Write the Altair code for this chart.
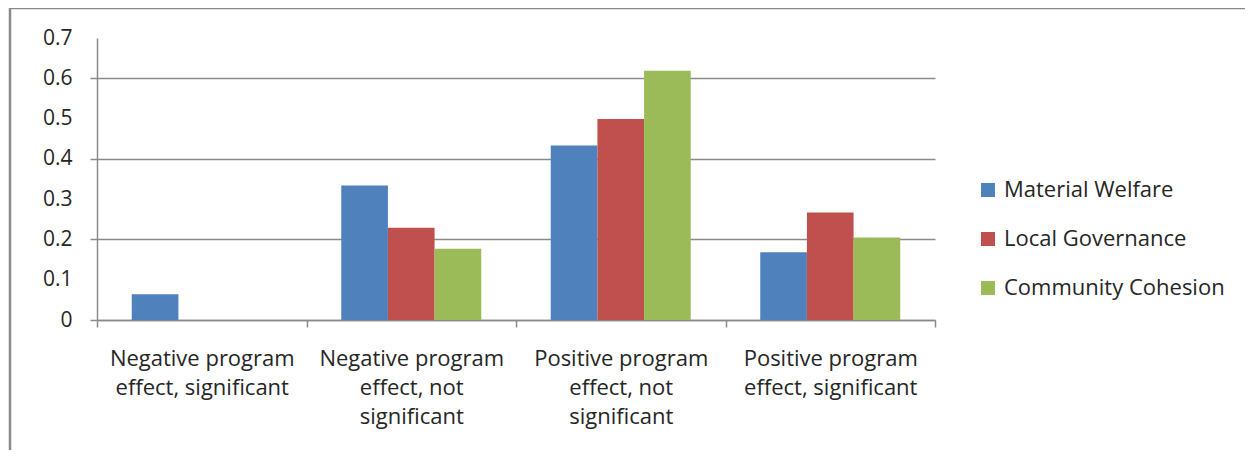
import altair as alt
import pandas as pd
import json

categories = [
    "Negative program effect, significant",
    "Negative program effect, not significant",
    "Positive program effect, not significant",
    "Positive program effect, significant",
]
category_lines = {
    "Negative program effect, significant": ["Negative program", "effect, significant"],
    "Negative program effect, not significant": ["Negative program", "effect, not", "significant"],
    "Positive program effect, not significant": ["Positive program", "effect, not", "significant"],
    "Positive program effect, significant": ["Positive program", "effect, significant"],
}
series = ["Material Welfare", "Local Governance", "Community Cohesion"]
colors = ["#4F81BD", "#C0504D", "#9BBB59"]

material_welfare = [0.064, 0.334, 0.433, 0.168]
local_governance = [0.0, 0.229, 0.499, 0.267]
community_cohesion = [0.0, 0.177, 0.619, 0.205]

y_ticks = [0, 0.1, 0.2, 0.3, 0.4, 0.5, 0.6, 0.7]

rows = []
for name, vals in zip(series, [material_welfare, local_governance, community_cohesion]):
    for c, v in zip(categories, vals):
        rows.append({"category": c, "series": name, "value": v})
df = pd.DataFrame(rows)

FONT = "Open Sans"
GRAY = "#8a8a8a"
TEXT = "#262626"
label_map = json.dumps(category_lines)

even_test = "round(datum.value * 10) % 2 == 0"

bars = alt.Chart(df).mark_bar().encode(
    x=alt.X(
        "category:N",
        sort=categories,
        scale=alt.Scale(paddingInner=0, paddingOuter=0),
        axis=alt.Axis(
            title=None,
            labelAngle=0,
            tickBand="extent",
            tickSize=7,
            tickColor=GRAY,
            tickWidth=1.5,
            domainColor=GRAY,
            domainWidth=1.5,
            labelExpr=f"{label_map}[datum.label]",
            labelFont=FONT,
            labelFontSize=22,
            labelColor=TEXT,
            labelLineHeight=29,
            labelPadding=21,
            labelBaseline="top",
            labelLimit=0,
        ),
    ),
    xOffset=alt.XOffset(
        "series:N", sort=series, scale=alt.Scale(paddingInner=0, paddingOuter=0.745)
    ),
    y=alt.Y(
        "value:Q",
        scale=alt.Scale(domain=[0, 0.7], nice=False),
        axis=alt.Axis(
            title=None,
            values=y_ticks,
            format="~g",
            grid=True,
            gridColor=GRAY,
            gridWidth=1.5,
            gridOpacity={"condition": {"test": even_test, "value": 1}, "value": 0},
            tickOpacity={"condition": {"test": even_test, "value": 1}, "value": 0},
            tickSize=7,
            tickColor=GRAY,
            tickWidth=1.5,
            domainColor=GRAY,
            domainWidth=1.5,
            labelFont=FONT,
            labelFontSize=21,
            labelColor=TEXT,
            labelPadding=18,
        ),
    ),
    color=alt.Color(
        "series:N",
        sort=series,
        scale=alt.Scale(domain=series, range=colors),
        legend=alt.Legend(
            title=None,
            orient="none",
            legendX=880,
            legendY=141,
            symbolType="square",
            symbolSize=196,
            symbolStrokeWidth=0,
            labelFont=FONT,
            labelFontSize=22,
            labelColor=TEXT,
            labelOffset=5,
            labelLimit=0,
            rowPadding=27,
        ),
    ),
)

frame = alt.Chart(alt.Data(values=[{}])).mark_rect(
    fill=None, stroke=GRAY, strokeWidth=2.5
).encode(
    x=alt.value(-87), x2=alt.value(1300), y=alt.value(-30), y2=alt.value(600)
)

chart = alt.layer(frame, bars).properties(
    width=838,
    height=282,
    autosize=alt.AutoSizeParams(type="none"),
    padding={"left": 89, "top": 30, "right": 310, "bottom": 130},
).configure_view(stroke=None)

chart.save("out.html", embed_options={"renderer": "svg", "actions": False})
